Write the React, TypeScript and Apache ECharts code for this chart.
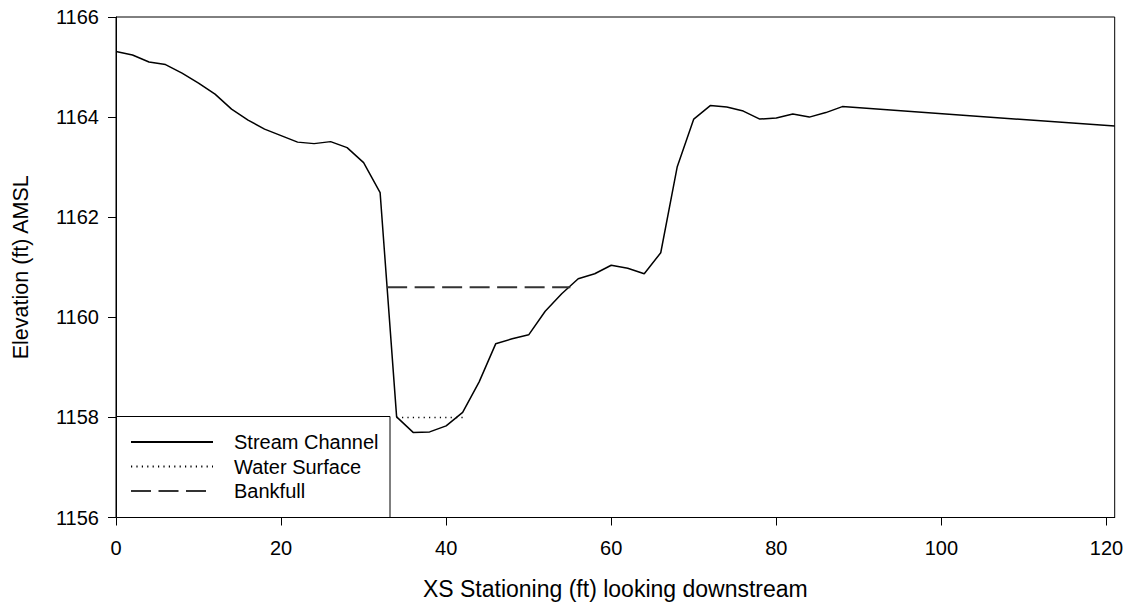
import React, { useEffect, useRef } from "react";
import * as echarts from "echarts";

const stations = [0, 2, 4, 6, 8, 10, 12, 14, 16, 18, 20, 22, 24, 26, 28, 30, 32, 34, 36, 38, 40, 42, 44, 46, 48, 50, 52, 54, 56, 58, 60, 62, 64, 66, 68, 70, 72, 74, 76, 78, 80, 82, 84, 86, 88, 121];
const elevations = [1165.31, 1165.24, 1165.1, 1165.05, 1164.88, 1164.68, 1164.46, 1164.16, 1163.94, 1163.76, 1163.63, 1163.5, 1163.47, 1163.51, 1163.39, 1163.09, 1162.49, 1158.01, 1157.7, 1157.71, 1157.83, 1158.1, 1158.71, 1159.47, 1159.57, 1159.65, 1160.12, 1160.47, 1160.77, 1160.87, 1161.04, 1160.98, 1160.87, 1161.29, 1163.01, 1163.96, 1164.23, 1164.2, 1164.12, 1163.96, 1163.98, 1164.06, 1164.0, 1164.09, 1164.21, 1163.82];
const waterX = [34, 42];
const waterY = [1158.0, 1158.0];
const bankX = [32.85, 55.05];
const bankY = [1160.6, 1160.6];
const xTicks = [0, 20, 40, 60, 80, 100, 120];
const seriesNames = ["Stream Channel", "Water Surface", "Bankfull"];

const FONT = "'Liberation Sans', Arial, sans-serif";

export default function App() {
  const ref = useRef<HTMLDivElement>(null);
  useEffect(() => {
    document.body.style.margin = "0";
    const chart = echarts.init(ref.current!, null, { renderer: "svg" });
    const zip = (xs: number[], ys: number[]) => xs.map((x, i) => [x, ys[i]]);
    chart.setOption({
      animation: false,
      backgroundColor: "#fff",
      textStyle: { fontFamily: FONT, color: "#000" },
      grid: {
        left: 116,
        right: 15.3,
        top: 17,
        bottom: 88.5,
        show: true,
        borderColor: "#000",
        borderWidth: 1,
      },
      xAxis: {
        type: "value",
        min: 0,
        max: 121,
        interval: 20,
        name: "XS Stationing (ft) looking downstream",
        nameLocation: "middle",
        nameGap: 60,
        nameTextStyle: { fontSize: 23, fontFamily: FONT, color: "#000" },
        axisLine: { lineStyle: { color: "#000", width: 1 } },
        axisTick: { length: 8, lineStyle: { color: "#000" }, customValues: xTicks },
        axisLabel: { fontSize: 20, fontFamily: FONT, color: "#000", margin: 20, customValues: xTicks },
        splitLine: { show: false },
      },
      yAxis: {
        type: "value",
        min: 1156,
        max: 1166,
        interval: 2,
        name: "Elevation (ft) AMSL",
        nameLocation: "middle",
        nameGap: 84,
        nameTextStyle: { fontSize: 21.5, fontFamily: FONT, color: "#000" },
        axisLine: { show: true, lineStyle: { color: "#000", width: 1 } },
        axisTick: { show: true, length: 8, lineStyle: { color: "#000" } },
        axisLabel: { fontSize: 20, fontFamily: FONT, color: "#000", margin: 17, formatter: (v: number) => String(v) },
        splitLine: { show: false },
      },
      legend: {
        show: true,
        orient: "vertical",
        left: 125,
        top: 427,
        itemWidth: 82,
        itemHeight: 14,
        itemGap: 4.5,
        z: 10,
        data: seriesNames,
        itemStyle: { color: "rgba(0,0,0,0)", borderWidth: 0, opacity: 0 },
        textStyle: { fontSize: 20, fontFamily: FONT, color: "#000", padding: [0, 0, 0, 16] },
      },
      graphic: [
        {
          type: "rect",
          z: 5,
          shape: { x: 116.5, y: 416.5, width: 273.5, height: 101 },
          style: { fill: "#fff", stroke: "#000", lineWidth: 1 },
        },
      ],
      series: [
        {
          name: seriesNames[0],
          type: "line",
          data: zip(stations, elevations),
          showSymbol: false,
          symbol: "none",
          lineStyle: { color: "#000", width: 1.5 },
          itemStyle: { color: "#000" },
        },
        {
          name: seriesNames[1],
          type: "line",
          data: zip(waterX, waterY),
          showSymbol: false,
          symbol: "none",
          lineStyle: { color: "#000", width: 1.5, type: [1.2, 4.2] },
          itemStyle: { color: "#000" },
        },
        {
          name: seriesNames[2],
          type: "line",
          data: zip(bankX, bankY),
          showSymbol: false,
          symbol: "none",
          lineStyle: { color: "#333", width: 2, type: [20, 7.5] },
          itemStyle: { color: "#333" },
        },
      ],
    });
    return () => chart.dispose();
  }, []);
  return <div ref={ref} style={{ width: 1130, height: 606 }} />;
}
